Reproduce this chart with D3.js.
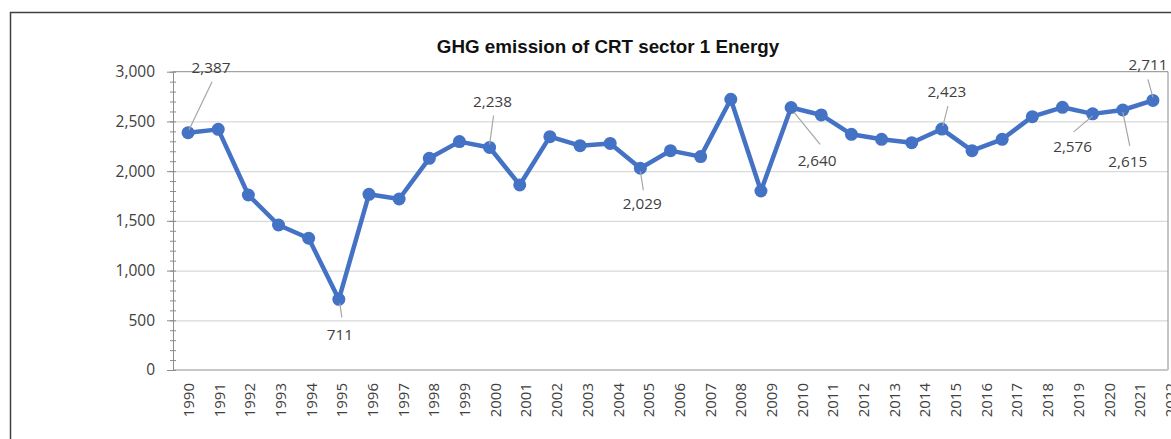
<!DOCTYPE html>
<html>
<head>
<meta charset="utf-8">
<script src="https://cdn.jsdelivr.net/npm/d3@7/dist/d3.min.js"></script>
<style>
  html, body { margin: 0; padding: 0; background: #fff; overflow: hidden; }
  svg { display: block; }
  .tick text { font-family: "Open Sans", sans-serif; fill: #404040; }
</style>
</head>
<body>
<svg id="chart"></svg>
<script>
/***** Données *****/
var chartTitle = "GHG emission of CRT sector 1 Energy";

var years = [1990, 1991, 1992, 1993, 1994, 1995, 1996, 1997, 1998, 1999,
  2000, 2001, 2002, 2003, 2004, 2005, 2006, 2007, 2008, 2009,
  2010, 2011, 2012, 2013, 2014, 2015, 2016, 2017, 2018, 2019,
  2020, 2021, 2022];

var emissions = [2387, 2420, 1760, 1458, 1325, 711, 1767, 1720, 2129, 2297,
  2238, 1861, 2347, 2256, 2279, 2029, 2206, 2146, 2723, 1800,
  2640, 2565, 2370, 2320, 2286, 2423, 2206, 2320, 2548, 2642,
  2576, 2615, 2711];

var yTickValues = [0, 500, 1000, 1500, 2000, 2500, 3000];

// années qui portent une étiquette de valeur
var labelledYears = [1990, 1995, 2000, 2005, 2010, 2015, 2020, 2021, 2022];

(function (d3) {
  "use strict";

  /***** Configuration *****/
  var width = 1171;
  var height = 439;
  var plot = { left: 173, right: 1168, top: 71.7, bottom: 370 };
  var lineColor = "#4472C4";

  // placement des étiquettes par rapport au point (texte, puis trait de rappel)
  var labelPlacement = {
    1990: { tx: 23, ty: -60, x1: 1, y1: -3, x2: 24, y2: -51 },
    1995: { tx: 1, ty: 41, x1: 1, y1: 4, x2: 3, y2: 18 },
    2000: { tx: 3, ty: -40, x1: 0, y1: -3, x2: 4, y2: -32 },
    2005: { tx: 2, ty: 41, x1: 0, y1: 3, x2: 3, y2: 22 },
    2010: { tx: 26, ty: 59, x1: 3, y1: 5, x2: 29, y2: 37 },
    2015: { tx: 5, ty: -32, x1: 1, y1: -3, x2: 6, y2: -23 },
    2020: { tx: -20, ty: 38, x1: 0, y1: 2, x2: -19, y2: 18 },
    2021: { tx: 5, ty: 57, x1: 0, y1: 2, x2: 7, y2: 36 },
    2022: { tx: -5, ty: -30, x1: 0, y1: -3, x2: -5, y2: -21 }
  };

  var data = years.map(function (year, i) {
    return { year: year, value: emissions[i] };
  });

  /***** Échelles *****/
  var x = d3.scaleBand().domain(years).range([plot.left, plot.right]).padding(0);
  // les libellés de l'axe sont un peu plus espacés que les points dans l'original
  var xLabels = d3.scalePoint().domain(years).range([188, 1170]);
  var y = d3.scaleLinear().domain([0, 3000]).range([plot.bottom, plot.top]);

  var cx = function (d) { return x(d.year) + x.bandwidth() / 2; };
  var cy = function (d) { return y(d.value); };

  var svg = d3.select("#chart")
    .attr("width", width)
    .attr("height", height);

  /***** Cadre du graphique *****/
  svg.append("rect")
    .attr("x", 10.5)
    .attr("y", 12.5)
    .attr("width", 1300)
    .attr("height", 600)
    .attr("fill", "none")
    .attr("stroke", "#404040")
    .attr("stroke-width", 1.5);

  svg.append("text")
    .attr("x", 608)
    .attr("y", 53)
    .attr("text-anchor", "middle")
    .style("font-family", "\"Liberation Sans\", Arial, sans-serif")
    .style("font-weight", "bold")
    .style("font-size", "18.8px")
    .attr("fill", "#111")
    .text(chartTitle);

  /***** Quadrillage *****/
  svg.append("g")
    .attr("transform", "translate(" + plot.left + ",0)")
    .call(d3.axisLeft(y)
      .tickValues(yTickValues.slice(1, -1))
      .tickSize(-(plot.right - plot.left))
      .tickFormat(""))
    .call(function (g) {
      g.select(".domain").remove();
      g.selectAll(".tick line").attr("stroke", "#d9d9d9").attr("stroke-width", 1.2);
    });

  // bordure de la zone de tracé (haut et droite)
  svg.append("path")
    .attr("d", "M" + plot.left + "," + plot.top + "H" + plot.right + "V" + plot.bottom)
    .attr("fill", "none")
    .attr("stroke", "#8c8c8c")
    .attr("stroke-width", 1);

  /***** Axe X *****/
  svg.append("line")
    .attr("x1", plot.left)
    .attr("x2", plot.right)
    .attr("y1", plot.bottom)
    .attr("y2", plot.bottom)
    .attr("stroke", "#c8c8c8")
    .attr("stroke-width", 2);

  svg.append("g")
    .attr("transform", "translate(0," + plot.bottom + ")")
    .call(d3.axisBottom(xLabels).tickSize(0))
    .call(function (g) {
      g.select(".domain").remove();
      g.selectAll(".tick text")
        .attr("transform", "rotate(-90)")
        .attr("x", -13)
        .attr("y", 0)
        .attr("dy", "0.36em")
        .style("text-anchor", "end")
        .style("font-size", "15px");
    });

  /***** Axe Y *****/
  svg.append("g")
    .attr("transform", "translate(" + (plot.left + 3) + ",0)")
    .call(d3.axisLeft(y).ticks(30).tickSize(6).tickFormat("").tickSizeOuter(0))
    .call(function (g) {
      g.select(".domain").remove();
      g.selectAll(".tick line").attr("stroke", "#8c8c8c");
    });

  svg.append("g")
    .attr("transform", "translate(" + plot.left + ",0)")
    .call(d3.axisLeft(y)
      .tickValues(yTickValues)
      .tickSize(6)
      .tickSizeOuter(0)
      .tickPadding(12)
      .tickFormat(d3.format(",")))
    .call(function (g) {
      g.select(".domain").attr("stroke", "#8c8c8c");
      g.selectAll(".tick line").attr("stroke", "#8c8c8c");
      g.selectAll(".tick text").style("font-size", "15.5px");
    });

  /***** Série *****/
  var line = d3.line().x(cx).y(cy);

  svg.append("path")
    .datum(data)
    .attr("d", line)
    .attr("fill", "none")
    .attr("stroke", lineColor)
    .attr("stroke-width", 4.5)
    .attr("stroke-linejoin", "round");

  svg.append("g")
    .selectAll("circle")
    .data(data)
    .enter()
    .append("circle")
    .attr("cx", cx)
    .attr("cy", cy)
    .attr("r", 6.5)
    .attr("fill", lineColor);

  /***** Étiquettes de valeurs *****/
  var labelled = data.filter(function (d) {
    return labelledYears.indexOf(d.year) >= 0;
  });

  var labels = svg.append("g");

  labels.selectAll("line")
    .data(labelled)
    .enter()
    .append("line")
    .attr("x1", function (d) { return cx(d) + labelPlacement[d.year].x1; })
    .attr("y1", function (d) { return cy(d) + labelPlacement[d.year].y1; })
    .attr("x2", function (d) { return cx(d) + labelPlacement[d.year].x2; })
    .attr("y2", function (d) { return cy(d) + labelPlacement[d.year].y2; })
    .attr("stroke", "#a6a6a6")
    .attr("stroke-width", 1.2);

  labels.selectAll("text")
    .data(labelled)
    .enter()
    .append("text")
    .attr("x", function (d) { return cx(d) + labelPlacement[d.year].tx; })
    .attr("y", function (d) { return cy(d) + labelPlacement[d.year].ty; })
    .attr("text-anchor", "middle")
    .style("font-family", "\"Open Sans\", sans-serif")
    .style("font-size", "15.3px")
    .attr("fill", "#404040")
    .text(function (d) { return d3.format(",")(d.value); });

})(d3);
</script>
</body>
</html>
